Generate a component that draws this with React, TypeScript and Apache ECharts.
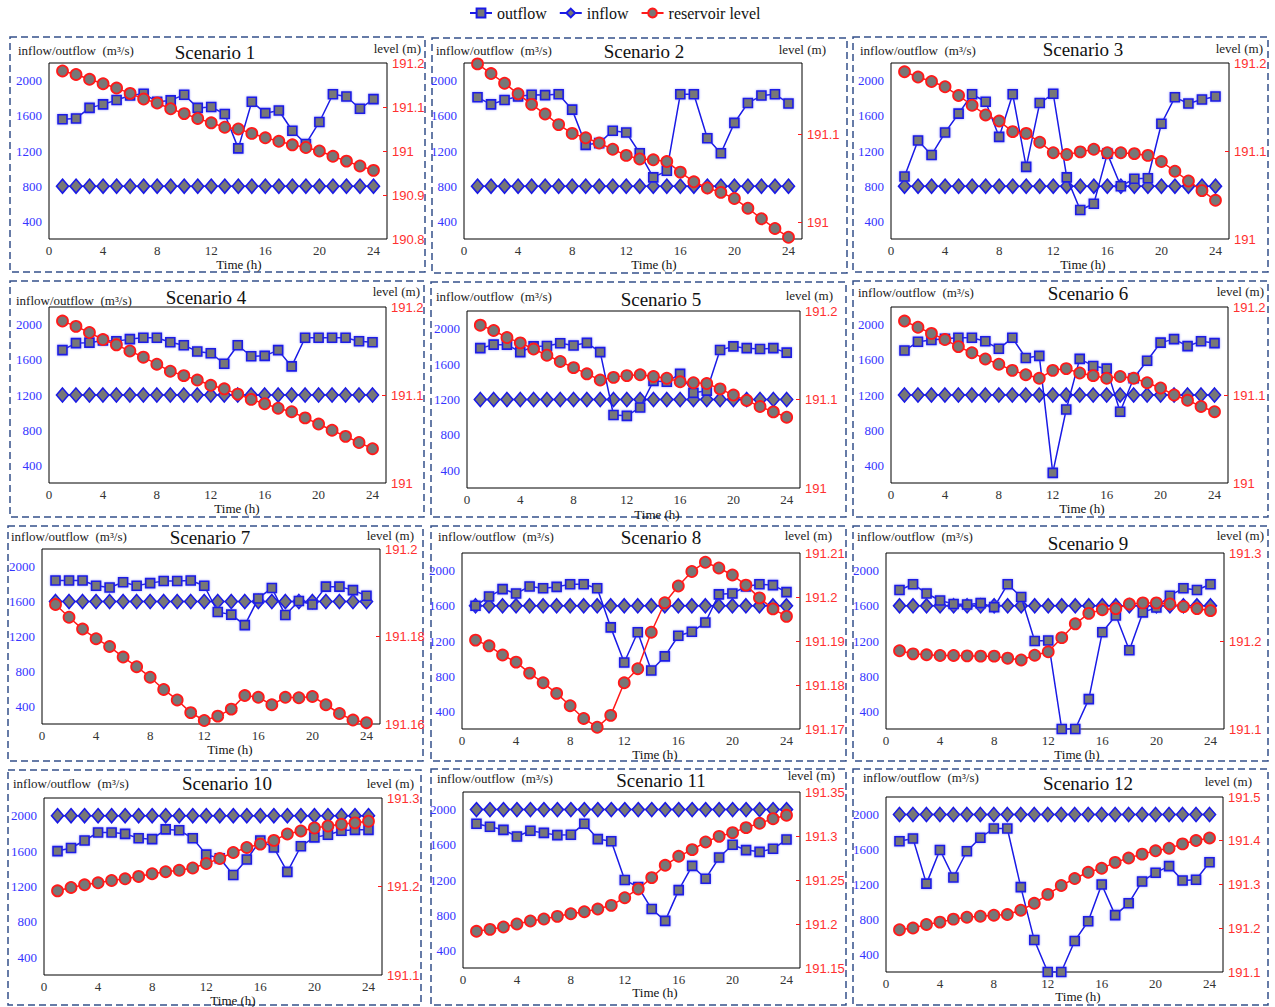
import React, { useEffect, useRef } from "react";
import * as echarts from "echarts";

const hours = [1, 2, 3, 4, 5, 6, 7, 8, 9, 10, 11, 12, 13, 14, 15, 16, 17, 18, 19, 20, 21, 22, 23, 24];
const xLabels = [0, 4, 8, 12, 16, 20, 24];
const leftLabels = [400, 800, 1200, 1600, 2000];
const scenarioNames = ["Scenario 1", "Scenario 2", "Scenario 3", "Scenario 4", "Scenario 5", "Scenario 6", "Scenario 7", "Scenario 8", "Scenario 9", "Scenario 10", "Scenario 11", "Scenario 12"];

const outflow1 = [1560, 1570, 1690, 1730, 1780, 1830, 1850, 1760, 1775, 1840, 1690, 1700, 1620, 1230, 1760, 1630, 1660, 1430, 1280, 1530, 1845, 1820, 1680, 1790];
const outflow2 = [1810, 1730, 1780, 1820, 1840, 1835, 1845, 1670, 1270, 1290, 1430, 1410, 1175, 900, 975, 1845, 1845, 1345, 1175, 1520, 1745, 1830, 1845, 1740];
const outflow3 = [910, 1320, 1155, 1410, 1625, 1845, 1760, 1360, 1845, 1020, 1745, 1850, 900, 530, 600, 1170, 800, 885, 890, 1510, 1810, 1740, 1785, 1820];
const outflow4 = [1710, 1790, 1795, 1820, 1810, 1835, 1850, 1850, 1800, 1765, 1695, 1675, 1555, 1765, 1640, 1645, 1710, 1525, 1850, 1850, 1850, 1850, 1810, 1800];
const outflow5 = [1780, 1820, 1820, 1735, 1800, 1805, 1835, 1810, 1840, 1735, 1025, 1015, 1110, 1410, 1400, 1490, 1275, 1300, 1760, 1800, 1780, 1770, 1780, 1730];
const outflow6 = [1705, 1805, 1825, 1840, 1850, 1850, 1810, 1725, 1850, 1620, 1645, 315, 1035, 1610, 1530, 1500, 1010, 1390, 1590, 1795, 1835, 1755, 1810, 1790];
const outflow7 = [1840, 1840, 1840, 1780, 1760, 1820, 1780, 1810, 1835, 1835, 1840, 1780, 1480, 1450, 1330, 1635, 1755, 1445, 1605, 1565, 1770, 1770, 1730, 1665];
const outflow8 = [1600, 1705, 1790, 1740, 1820, 1800, 1815, 1845, 1845, 1800, 1355, 955, 1300, 865, 1025, 1260, 1305, 1410, 1730, 1740, 1820, 1845, 1835, 1755];
const outflow9 = [1780, 1845, 1740, 1660, 1620, 1615, 1630, 1585, 1845, 1700, 1200, 1205, 200, 200, 540, 1300, 1490, 1095, 1525, 1580, 1715, 1800, 1780, 1845];
const outflow10 = [1600, 1635, 1720, 1810, 1810, 1795, 1745, 1735, 1845, 1835, 1745, 1560, 1520, 1330, 1505, 1720, 1640, 1365, 1655, 1755, 1785, 1830, 1840, 1840];
const outflow11 = [1840, 1805, 1770, 1695, 1760, 1735, 1710, 1715, 1840, 1665, 1640, 1200, 1120, 870, 735, 1085, 1360, 1215, 1455, 1600, 1540, 1520, 1555, 1660];
const outflow12 = [1695, 1725, 1210, 1595, 1280, 1580, 1735, 1840, 1840, 1170, 565, 200, 200, 555, 780, 1200, 850, 985, 1235, 1335, 1410, 1245, 1255, 1455];

const inflow1 = [800, 800, 800, 800, 800, 800, 800, 800, 800, 800, 800, 800, 800, 800, 800, 800, 800, 800, 800, 800, 800, 800, 800, 800];
const inflow2 = [800, 800, 800, 800, 800, 800, 800, 800, 800, 800, 800, 800, 800, 800, 800, 800, 800, 800, 800, 800, 800, 800, 800, 800];
const inflow3 = [800, 800, 800, 800, 800, 800, 800, 800, 800, 800, 800, 800, 800, 800, 800, 800, 800, 800, 800, 800, 800, 800, 800, 800];
const inflow4 = [1200, 1200, 1200, 1200, 1200, 1200, 1200, 1200, 1200, 1200, 1200, 1200, 1200, 1200, 1200, 1200, 1200, 1200, 1200, 1200, 1200, 1200, 1200, 1200];
const inflow5 = [1200, 1200, 1200, 1200, 1200, 1200, 1200, 1200, 1200, 1200, 1200, 1200, 1200, 1200, 1200, 1200, 1200, 1200, 1200, 1200, 1200, 1200, 1200, 1200];
const inflow6 = [1200, 1200, 1200, 1200, 1200, 1200, 1200, 1200, 1200, 1200, 1200, 1200, 1200, 1200, 1200, 1200, 1200, 1200, 1200, 1200, 1200, 1200, 1200, 1200];
const inflow7 = [1600, 1600, 1600, 1600, 1600, 1600, 1600, 1600, 1600, 1600, 1600, 1600, 1600, 1600, 1600, 1600, 1600, 1600, 1600, 1600, 1600, 1600, 1600, 1600];
const inflow8 = [1600, 1600, 1600, 1600, 1600, 1600, 1600, 1600, 1600, 1600, 1600, 1600, 1600, 1600, 1600, 1600, 1600, 1600, 1600, 1600, 1600, 1600, 1600, 1600];
const inflow9 = [1600, 1600, 1600, 1600, 1600, 1600, 1600, 1600, 1600, 1600, 1600, 1600, 1600, 1600, 1600, 1600, 1600, 1600, 1600, 1600, 1600, 1600, 1600, 1600];
const inflow10 = [2000, 2000, 2000, 2000, 2000, 2000, 2000, 2000, 2000, 2000, 2000, 2000, 2000, 2000, 2000, 2000, 2000, 2000, 2000, 2000, 2000, 2000, 2000, 2000];
const inflow11 = [2000, 2000, 2000, 2000, 2000, 2000, 2000, 2000, 2000, 2000, 2000, 2000, 2000, 2000, 2000, 2000, 2000, 2000, 2000, 2000, 2000, 2000, 2000, 2000];
const inflow12 = [2000, 2000, 2000, 2000, 2000, 2000, 2000, 2000, 2000, 2000, 2000, 2000, 2000, 2000, 2000, 2000, 2000, 2000, 2000, 2000, 2000, 2000, 2000, 2000];

const level1 = [191.182, 191.174, 191.163, 191.153, 191.143, 191.131, 191.118, 191.109, 191.096, 191.085, 191.074, 191.064, 191.054, 191.05, 191.04, 191.03, 191.022, 191.014, 191.008, 191.0, 190.988, 190.977, 190.966, 190.956];
const level2 = [191.18, 191.169, 191.158, 191.146, 191.134, 191.123, 191.111, 191.101, 191.096, 191.09, 191.083, 191.076, 191.072, 191.071, 191.069, 191.057, 191.046, 191.039, 191.034, 191.027, 191.016, 191.004, 190.993, 190.983];
const level3 = [191.19, 191.184, 191.179, 191.173, 191.163, 191.152, 191.141, 191.134, 191.122, 191.12, 191.11, 191.098, 191.096, 191.099, 191.102, 191.098, 191.098, 191.097, 191.095, 191.088, 191.077, 191.066, 191.055, 191.044];
const level4 = [191.184, 191.178, 191.171, 191.163, 191.157, 191.15, 191.143, 191.135, 191.127, 191.122, 191.117, 191.111, 191.107, 191.101, 191.095, 191.09, 191.085, 191.081, 191.074, 191.067, 191.06, 191.053, 191.046, 191.039];
const level5 = [191.184, 191.178, 191.17, 191.164, 191.157, 191.15, 191.143, 191.136, 191.129, 191.122, 191.125, 191.127, 191.128, 191.126, 191.124, 191.12, 191.119, 191.118, 191.112, 191.105, 191.099, 191.092, 191.086, 191.08];
const level6 = [191.184, 191.177, 191.17, 191.163, 191.155, 191.148, 191.141, 191.135, 191.128, 191.123, 191.119, 191.128, 191.13, 191.125, 191.122, 191.119, 191.121, 191.119, 191.114, 191.108, 191.1, 191.094, 191.087, 191.081];
const level7 = [191.1873, 191.1844, 191.1817, 191.1795, 191.1777, 191.1753, 191.1731, 191.1707, 191.1679, 191.1655, 191.1626, 191.1608, 191.1618, 191.1634, 191.1665, 191.1661, 191.1644, 191.1661, 191.166, 191.1663, 191.1644, 191.1624, 191.1609, 191.1603];
const level8 = [191.1902, 191.1889, 191.1868, 191.1852, 191.1827, 191.1805, 191.1781, 191.1753, 191.1724, 191.1704, 191.1731, 191.1805, 191.1837, 191.192, 191.1987, 191.2025, 191.2058, 191.2079, 191.2066, 191.205, 191.2027, 191.1998, 191.1973, 191.1956];
const level9 = [191.1889, 191.1854, 191.1843, 191.1835, 191.1835, 191.1831, 191.1828, 191.1828, 191.1805, 191.1785, 191.1839, 191.1877, 191.2038, 191.2195, 191.2314, 191.2356, 191.2368, 191.2421, 191.2433, 191.2433, 191.2421, 191.2391, 191.2368, 191.2345];
const level10 = [191.1951, 191.1989, 191.2019, 191.2042, 191.2068, 191.2087, 191.2114, 191.2144, 191.2167, 191.2183, 191.2209, 191.2259, 191.2316, 191.2384, 191.2441, 191.2479, 191.2521, 191.2593, 191.2627, 191.2662, 191.2684, 191.2703, 191.2719, 191.2738];
const level11 = [191.1917, 191.1939, 191.1966, 191.2, 191.2034, 191.2057, 191.2087, 191.2117, 191.214, 191.217, 191.2212, 191.2299, 191.2398, 191.2527, 191.2667, 191.2769, 191.2845, 191.2932, 191.2996, 191.3038, 191.3095, 191.3144, 191.3197, 191.3235];
const level12 = [191.1966, 191.2004, 191.2087, 191.214, 191.2208, 191.2253, 191.2275, 191.2298, 191.2313, 191.2411, 191.257, 191.2774, 191.2977, 191.3136, 191.3279, 191.337, 191.3506, 191.3604, 191.3694, 191.377, 191.383, 191.3928, 191.4004, 191.4064];

const rightMin = [190.8, 190.981, 191, 191, 191, 191, 191.16, 191.17, 191.1, 191.1, 191.15, 191.1];
const rightMax = [191.2, 191.181, 191.2, 191.2, 191.2, 191.2, 191.2, 191.21, 191.3, 191.3, 191.35, 191.5];
const rightLabels = [
  [190.8, 190.9, 191, 191.1, 191.2],
  [191, 191.1],
  [191, 191.1, 191.2],
  [191, 191.1, 191.2],
  [191, 191.1, 191.2],
  [191, 191.1, 191.2],
  [191.16, 191.18, 191.2],
  [191.17, 191.18, 191.19, 191.2, 191.21],
  [191.1, 191.2, 191.3],
  [191.1, 191.2, 191.3],
  [191.15, 191.2, 191.25, 191.3, 191.35],
  [191.1, 191.2, 191.3, 191.4, 191.5],
];

const outflows = [outflow1, outflow2, outflow3, outflow4, outflow5, outflow6, outflow7, outflow8, outflow9, outflow10, outflow11, outflow12];
const inflows = [inflow1, inflow2, inflow3, inflow4, inflow5, inflow6, inflow7, inflow8, inflow9, inflow10, inflow11, inflow12];
const levels = [level1, level2, level3, level4, level5, level6, level7, level8, level9, level10, level11, level12];

// ---- layout (pixels) ----
const boxes = [
  [10, 37, 415, 235], [432, 38, 415, 235], [853, 37, 415, 235],
  [10, 281, 414, 236], [431, 282, 415, 235], [853, 281, 415, 236],
  [8, 526, 415, 235], [431, 526, 415, 235], [853, 526, 415, 235],
  [8, 770, 413, 235], [431, 769, 415, 236], [853, 769, 415, 236],
];
const grids = [
  [49, 63, 338, 176], [464, 63, 338, 176], [891, 63, 338, 176],
  [49, 307, 337, 176], [467, 311, 333, 177], [891, 307, 337, 176],
  [42, 549, 338, 175], [462, 553, 338, 176], [886, 553, 338, 176],
  [44, 798, 338, 177], [463, 792, 337, 176], [886, 797, 337, 175],
];
const titlePos = [
  [215, 52], [644, 51], [1083, 49],
  [206, 297], [661, 299], [1088, 293],
  [210, 537], [661, 537], [1088, 543],
  [227, 783], [661, 780], [1088, 783],
];
const flowNamePos = [
  [18, 50], [436, 50], [860, 50],
  [16, 300], [436, 296], [858, 292],
  [11, 536], [438, 536], [857, 536],
  [13, 783], [437, 778], [863, 777],
];
const levelNamePos = [
  [421, 48], [826, 49], [1263, 48],
  [420, 291], [833, 295], [1264, 291],
  [414, 535], [832, 535], [1264, 535],
  [414, 783], [835, 775], [1252, 781],
];
const timePos = [
  [239, 264], [654, 264], [1083, 264],
  [237, 508], [657, 514], [1082, 508],
  [230, 749], [655, 754], [1077, 754],
  [233, 1000], [655, 992], [1078, 996],
];

const SERIF = "'Liberation Serif', 'Times New Roman', serif";
const SANS = "'Liberation Sans', Arial, sans-serif";
const BLUE = "#1a1ae6";
const BLUE_TEXT = "#3434ff";
const RED = "#ff1a1a";
const RED_TEXT = "#ff3030";
const GRAY = "#777777";

function fmtNum(v: number) {
  return String(+Number(v).toFixed(3));
}

function buildOption() {
  const grid: any[] = [];
  const xAxis: any[] = [];
  const yAxis: any[] = [];
  const series: any[] = [];
  const graphic: any[] = [];

  for (let i = 0; i < 12; i++) {
    const g = grids[i];
    grid.push({
      left: g[0], top: g[1], width: g[2], height: g[3],
      show: true, borderColor: "#000", borderWidth: 1, backgroundColor: "#fff",
    });
    xAxis.push({
      type: "value", gridIndex: i, min: 0, max: 25,
      axisLine: { show: false }, axisTick: { show: false }, splitLine: { show: false },
      axisLabel: { customValues: xLabels, formatter: (v: number) => fmtNum(v), color: "#333", fontSize: 13, fontFamily: SERIF, margin: 5 },
    });
    yAxis.push({
      type: "value", gridIndex: i, min: 200, max: 2200, position: "left",
      axisLine: { show: false }, axisTick: { show: false }, splitLine: { show: false },
      axisLabel: { customValues: leftLabels, formatter: (v: number) => fmtNum(v), color: BLUE_TEXT, fontSize: 13, fontFamily: SERIF, margin: 7 },
    });
    const mn = rightMin[i], mx = rightMax[i];
    yAxis.push({
      type: "value", gridIndex: i, min: mn, max: mx, position: "right",
      axisLine: { show: false }, splitLine: { show: false },
      axisTick: {
        show: true, inside: true, length: 4,
        customValues: rightLabels[i].filter((v) => v > mn + 1e-9 && v < mx - 1e-9),
        lineStyle: { color: RED, width: 1 },
      },
      axisLabel: {
        customValues: rightLabels[i], formatter: (v: number) => fmtNum(v),
        color: RED_TEXT, fontSize: 13, fontFamily: SANS, margin: 5,
      },
    });

    const pts = (arr: number[]) => hours.map((h, k) => [h, arr[k]]);

    series.push({
      name: "inflow", type: "line", xAxisIndex: i, yAxisIndex: 2 * i, z: 2,
      data: pts(inflows[i]), symbol: "diamond", symbolSize: [12, 14],
      itemStyle: { color: GRAY, borderColor: BLUE, borderWidth: 1.6 },
      lineStyle: { color: BLUE, width: 1.5 },
    });
    series.push({
      name: "outflow", type: "line", xAxisIndex: i, yAxisIndex: 2 * i, z: 3,
      data: pts(outflows[i]), symbol: "rect", symbolSize: 9,
      itemStyle: { color: GRAY, borderColor: BLUE, borderWidth: 1.6, shadowBlur: 2, shadowColor: "rgba(90,90,255,0.6)" },
      lineStyle: { color: BLUE, width: 1.5 },
    });
    series.push({
      name: "reservoir level", type: "line", xAxisIndex: i, yAxisIndex: 2 * i + 1, z: 4,
      data: pts(levels[i]), symbol: "circle", symbolSize: 11,
      itemStyle: { color: GRAY, borderColor: RED, borderWidth: 1.8 },
      lineStyle: { color: RED, width: 1.5 },
    });

    const b = boxes[i];
    graphic.push({
      type: "rect", shape: { x: b[0], y: b[1], width: b[2], height: b[3] },
      style: { fill: "none", stroke: "#34508a", lineWidth: 1.5, lineDash: [7, 4] },
      silent: true, z: 0,
    });
    graphic.push({
      type: "text", x: titlePos[i][0], y: titlePos[i][1], silent: true,
      style: { text: scenarioNames[i], fill: "#111", font: `19px ${SERIF}`, textAlign: "center", textVerticalAlign: "middle" },
    });
    graphic.push({
      type: "text", x: flowNamePos[i][0], y: flowNamePos[i][1], silent: true,
      style: { text: "inflow/outflow  (m³/s)", fill: "#222", font: `13px ${SERIF}`, textAlign: "left", textVerticalAlign: "middle" },
    });
    graphic.push({
      type: "text", x: levelNamePos[i][0], y: levelNamePos[i][1], silent: true,
      style: { text: "level (m)", fill: "#222", font: `13px ${SERIF}`, textAlign: "right", textVerticalAlign: "middle" },
    });
    graphic.push({
      type: "text", x: timePos[i][0], y: timePos[i][1], silent: true,
      style: { text: "Time (h)", fill: "#111", font: `13px ${SERIF}`, textAlign: "center", textVerticalAlign: "middle" },
    });
  }

  return {
    animation: false,
    backgroundColor: "#fff",
    legend: {
      data: ["outflow", "inflow", "reservoir level"],
      top: 0, left: 464, itemGap: 12, itemWidth: 22, itemHeight: 11,
      textStyle: { fontFamily: SERIF, fontSize: 16, color: "#111" },
    },
    grid, xAxis, yAxis, series, graphic,
  };
}

export default function App() {
  const ref = useRef<HTMLDivElement>(null);
  useEffect(() => {
    if (!ref.current) return;
    const chart = echarts.init(ref.current, null, { renderer: "svg" });
    chart.setOption(buildOption() as any);
    return () => chart.dispose();
  }, []);
  return (
    <div
      ref={ref}
      style={{ position: "fixed", left: 0, top: 0, width: 1275, height: 1007, background: "#fff" }}
    />
  );
}
